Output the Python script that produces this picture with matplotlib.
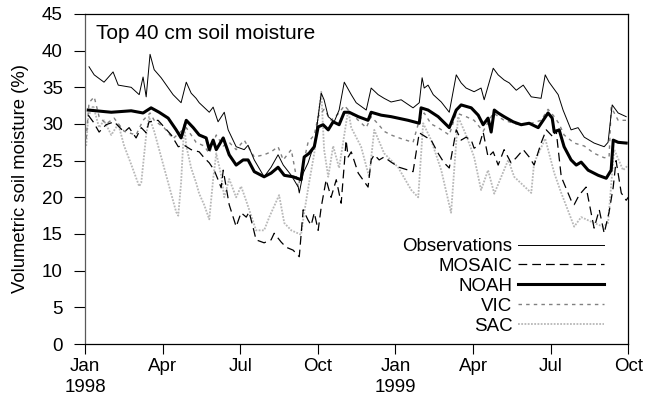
import matplotlib
matplotlib.use("Agg")
import matplotlib.pyplot as plt

plt.rcParams['font.family'] = ['Liberation Sans', 'DejaVu Sans']

# time axis in months since 1 Jan 1998
obs_t = [0.15, 0.35, 0.73, 1.08, 1.28, 1.78, 2.09, 2.24, 2.36, 2.51, 2.67, 2.94, 3.40, 3.71, 3.91,
         4.10, 4.29, 4.41, 4.80, 4.95, 5.14, 5.38, 5.53, 5.84, 6.15, 6.30, 6.54, 6.92, 7.19, 7.46,
         7.66, 7.97, 8.24, 8.28, 8.43, 8.62, 8.74, 8.86, 9.01, 9.13, 9.24, 9.40, 9.63, 9.82, 10.02,
         10.29, 10.48, 10.87, 11.06, 11.33, 11.56, 11.83, 12.22, 12.68, 12.92, 13.03, 13.11, 13.26,
         13.46, 13.77, 14.08, 14.35, 14.54, 14.73, 15.04, 15.31, 15.43, 15.78, 15.97, 16.20, 16.40,
         16.67, 16.94, 17.25, 17.63, 17.79, 17.94, 18.29, 18.48, 18.79, 19.06, 19.30, 19.68, 20.07,
         20.22, 20.38, 20.61, 20.92]
obs_v = [37.8, 36.7, 35.7, 37.1, 35.3, 35.0, 34.0, 36.4, 33.7, 39.5, 37.4, 36.3, 34.0, 32.9, 35.7,
         34.2, 33.5, 32.9, 31.6, 32.3, 30.3, 31.6, 29.2, 26.9, 26.5, 27.1, 25.1, 22.8, 24.1, 25.8,
         24.4, 23.0, 21.4, 20.6, 23.3, 24.7, 26.0, 26.9, 31.0, 34.2, 33.3, 31.0, 30.3, 31.9, 35.7,
         34.0, 32.9, 31.9, 34.9, 34.0, 33.5, 33.0, 33.3, 32.2, 32.9, 36.3, 34.9, 35.3,
         34.0, 33.0, 31.6, 36.7, 35.6, 34.9, 34.4, 34.9, 33.3, 37.6, 36.7, 36.0, 35.6,
         34.6, 35.3, 33.7, 33.5, 36.7, 35.7, 34.0, 31.9, 29.2, 29.5, 28.2, 27.4, 26.9,
         27.5, 32.6, 31.5, 31.0]

mosaic_t = [0.12, 0.31, 0.54, 0.81, 1.12, 1.51, 1.70, 1.97, 2.17, 2.36, 2.47, 2.82, 3.05, 3.33, 3.60,
            3.83, 4.10, 4.41, 4.60, 4.80, 4.99, 5.14, 5.26, 5.34, 5.57, 5.84, 6.03, 6.23, 6.34, 6.50,
            6.61, 6.92, 7.19, 7.31, 7.58, 7.77, 8.04, 8.28, 8.43, 8.62, 8.74, 8.86, 9.01, 9.13, 9.32,
            9.51, 9.71, 9.90, 10.02, 10.09, 10.17, 10.29, 10.56, 10.94, 11.06, 11.18, 11.37, 11.56,
            11.83, 12.14, 12.68, 12.92, 13.19, 13.38, 13.65, 13.88, 14.08, 14.35, 14.54, 14.73, 14.93,
            15.04, 15.24, 15.39, 15.58, 15.78, 15.97, 16.20, 16.47, 16.67, 16.94, 17.17, 17.36, 17.63,
            17.83, 18.10, 18.21, 18.41, 18.79, 18.91, 19.10, 19.37, 19.68, 19.88, 20.07, 20.26, 20.42,
            20.53, 20.73, 20.92, 21.0]
mosaic_v = [31.2, 30.3, 28.9, 29.9, 30.3, 28.9, 29.5, 28.1, 29.5, 28.8, 30.3, 30.5, 29.6, 28.5, 26.9,
            27.1, 26.5, 26.2, 25.4, 24.7, 23.7, 22.4, 21.3, 23.7, 19.0, 16.0, 17.9, 17.3, 18.0, 15.8,
            14.2, 13.8, 14.2, 15.1, 13.9, 13.2, 12.8, 11.9, 18.3, 16.9, 16.2, 17.9, 15.5, 18.7, 22.4,
            20.0, 22.4, 19.2, 24.5, 27.8, 25.5, 26.2, 23.3, 21.4, 25.1, 25.8, 25.1, 25.5,
            24.8, 24.1, 23.5, 28.8, 28.2, 27.8, 26.0, 24.7, 24.0, 29.2, 27.8, 28.2, 27.8,
            26.7, 27.1, 28.9, 25.5, 26.2, 24.4, 26.5, 24.7, 25.4, 26.5, 25.5, 24.4, 27.4,
            29.2, 28.2, 29.2, 22.8, 19.6, 19.0, 20.3, 21.4, 15.8, 18.3, 15.1, 18.0, 21.4,
            25.0, 20.6, 19.6, 20.0]

noah_t = [0.12, 1.01, 1.78, 2.24, 2.55, 2.86, 3.21, 3.52, 3.71, 3.91, 4.18, 4.41, 4.68, 4.80, 4.95,
          5.07, 5.34, 5.57, 5.84, 6.11, 6.30, 6.54, 6.92, 7.19, 7.46, 7.70, 8.04, 8.35, 8.47, 8.66,
          8.86, 9.01, 9.20, 9.40, 9.59, 9.82, 10.02, 10.21, 10.56, 10.94, 11.06, 11.45, 11.83, 12.49,
          12.92, 12.99, 13.26, 13.65, 14.08, 14.35, 14.54, 14.93, 15.20, 15.39, 15.58, 15.70, 15.82,
          15.97, 16.20, 16.55, 16.86, 17.17, 17.52, 17.90, 18.06, 18.14, 18.33, 18.52, 18.79, 18.99,
          19.18, 19.45, 19.84, 20.15, 20.34, 20.42, 20.61, 20.92]
noah_v = [31.9, 31.6, 31.8, 31.5, 32.2, 31.6, 30.8, 29.2, 28.1, 30.5, 29.5, 28.5, 28.1, 26.5, 27.8,
          26.5, 28.1, 25.8, 24.4, 25.1, 25.1, 23.5, 22.8, 23.3, 24.1, 23.0, 22.8, 22.4, 25.5, 26.0,
          26.9, 29.6, 29.9, 29.2, 30.3, 29.9, 31.6, 31.6, 31.0, 30.5, 31.6, 31.2, 31.0, 30.5,
          30.1, 32.2, 31.9, 31.0, 29.5, 31.9, 32.6, 32.2, 31.2, 29.9, 30.8, 28.9, 31.9,
          31.5, 31.0, 30.3, 29.9, 30.1, 29.5, 31.5, 30.8, 28.9, 29.2, 26.9, 25.1, 24.4,
          24.8, 23.7, 23.0, 22.6, 23.7, 27.8, 27.5, 27.4]

vic_t = [0.04, 0.15, 0.35, 0.54, 0.81, 1.12, 1.51, 1.97, 2.24, 2.51, 2.67, 3.05, 3.40, 3.71, 3.91,
         4.29, 4.60, 4.80, 5.07, 5.34, 5.57, 5.84, 6.15, 6.54, 6.92, 7.19, 7.46, 7.66, 7.97, 8.24,
         8.43, 8.62, 8.86, 9.01, 9.24, 9.51, 9.82, 10.02, 10.29, 10.56, 10.87, 11.06, 11.33, 11.56,
         11.83, 12.22, 12.68, 12.92, 13.11, 13.38, 13.65, 14.08, 14.35, 14.73, 15.04, 15.39, 15.78,
         16.20, 16.67, 17.17, 17.63, 17.90, 18.14, 18.33, 18.52, 18.91, 19.30, 19.68, 20.07, 20.26,
         20.34, 20.61, 20.92]
vic_v = [28.0, 32.9, 33.7, 31.0, 30.0, 30.8, 29.0, 28.5, 30.5, 31.5, 30.5, 29.5, 28.0, 29.0, 29.5,
         27.5, 27.0, 26.0, 28.5, 27.0, 27.5, 26.5, 27.8, 25.5, 25.8, 26.2, 26.9, 25.1, 26.5, 21.4,
         24.5, 27.5, 28.5, 31.0, 32.0, 30.5, 31.5, 32.5, 31.5, 30.5, 29.5, 31.0, 30.0, 29.0,
         28.5, 28.0, 27.5, 30.5, 31.5, 30.0, 29.5, 28.5, 31.5, 31.0, 30.5, 29.0, 31.5,
         30.5, 30.0, 30.0, 30.5, 32.0, 31.0, 30.0, 28.5, 27.4, 27.0, 26.0, 25.4, 25.5,
         32.3, 30.5, 30.5]

sac_t = [0.04, 0.12, 0.31, 0.54, 0.73, 1.01, 1.28, 1.51, 1.78, 2.09, 2.17, 2.36, 2.47, 2.67, 2.94,
         3.21, 3.52, 3.60, 3.71, 3.83, 3.91, 4.10, 4.29, 4.41, 4.60, 4.80, 4.95, 5.07, 5.26, 5.38,
         5.57, 5.84, 6.03, 6.23, 6.61, 6.92, 7.12, 7.50, 7.70, 7.97, 8.35, 8.47, 8.66, 8.86, 9.01,
         9.13, 9.24, 9.40, 9.59, 9.82, 10.02, 10.17, 10.29, 10.67, 10.98, 11.18, 11.56, 12.10, 12.61,
         12.88, 13.07, 13.38, 13.77, 14.15, 14.42, 14.73, 15.04, 15.31, 15.58, 15.82, 16.36, 16.59,
         17.25, 17.36, 17.79, 18.14, 18.41, 18.91, 19.18, 19.68, 20.03, 20.22, 20.42, 20.46, 20.80,
         21.0]
sac_v = [27.0, 31.0, 32.5, 29.5, 30.5, 28.5, 30.0, 27.0, 24.5, 21.5, 22.0, 28.5, 31.0, 29.0, 25.5,
         22.0, 18.0, 17.5, 22.0, 30.0, 27.0, 24.0, 22.0, 20.5, 19.0, 17.0, 22.5, 26.0, 23.0, 20.0,
         22.5, 20.0, 21.5, 19.5, 15.5, 15.5, 17.3, 20.3, 16.5, 15.5, 14.9, 17.9, 22.0, 26.0, 31.0,
         34.4, 26.5, 22.8, 27.0, 24.0, 28.5, 31.9, 29.5, 26.9, 22.8, 29.2, 26.0, 24.1, 21.0,
         20.0, 30.1, 27.8, 23.7, 17.9, 31.0, 28.5, 25.5, 21.0, 23.7, 20.5, 25.1, 22.8,
         20.6, 24.7, 28.0, 23.3, 20.6, 16.0, 17.3, 16.5, 16.0, 16.5, 25.1, 26.5, 23.7,
         24.4]

tick_pos = [0, 3, 6, 9, 12, 15, 18, 21]
tick_labels = ['Jan\n1998', 'Apr', 'Jul', 'Oct', 'Jan\n1999', 'Apr', 'Jul', 'Oct']

fig = plt.figure(figsize=(6.45, 4.11), dpi=100)
ax = fig.add_axes([0.132, 0.163, 0.842, 0.803])

ax.plot(sac_t, sac_v, color='0.72', lw=1.3, ls=(0, (1, 0.8)), label='SAC', zorder=2)
ax.plot(vic_t, vic_v, color='0.5', lw=1.0, ls=(0, (2.5, 3)), label='VIC', zorder=3)
ax.plot(mosaic_t, mosaic_v, color='black', lw=0.9, ls=(0, (7, 4)), label='MOSAIC', zorder=4)
ax.plot(obs_t, obs_v, color='black', lw=0.7, label='Observations', zorder=5)
ax.plot(noah_t, noah_v, color='black', lw=2.2, label='NOAH', zorder=6)

ax.set_xlim(0, 21)
ax.set_ylim(0, 45)
ax.set_yticks(range(0, 46, 5))
ax.set_xticks(tick_pos)
ax.set_xticklabels(tick_labels, linespacing=1.35)
ax.tick_params(direction='out', width=0.8, labelsize=13.5)
ax.tick_params(axis='y', length=8, pad=8)
ax.tick_params(axis='x', length=7, pad=3)
for s in ax.spines.values():
    s.set_linewidth(0.9)
ax.spines['left'].set_color('0.35')
ax.set_ylabel('Volumetric soil moisture (%)', fontsize=13.3, labelpad=9)
ax.text(0.02, 0.97, 'Top 40 cm soil moisture', transform=ax.transAxes,
        fontsize=15, va='top', ha='left')

h, l = ax.get_legend_handles_labels()
order = ['Observations', 'MOSAIC', 'NOAH', 'VIC', 'SAC']
hs = [h[l.index(n)] for n in order]
ax.legend(hs, order, loc='lower right', bbox_to_anchor=(0.98, -0.012), markerfirst=False,
          frameon=False, fontsize=13.5, handlelength=4.6, handletextpad=0.3,
          labelspacing=0.15, borderpad=0.2)

fig.savefig('out.png', dpi=100)
